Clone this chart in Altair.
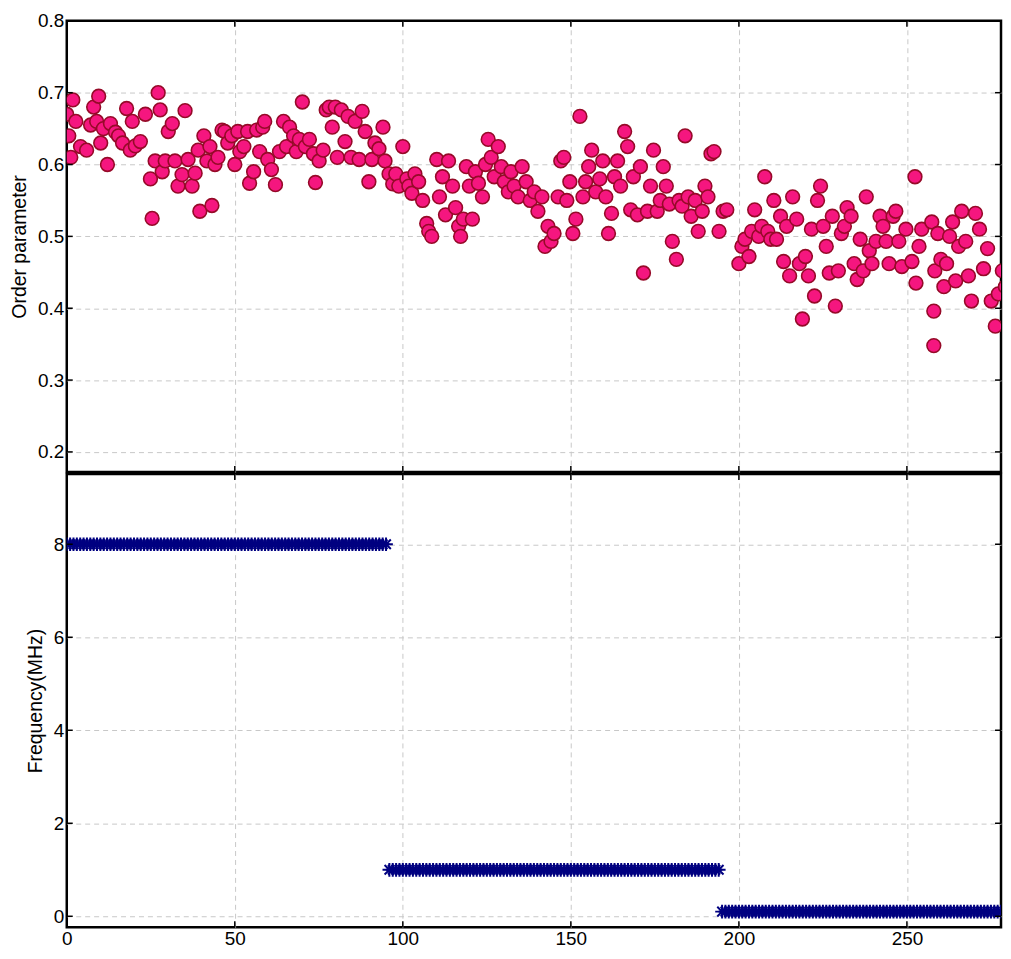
import altair as alt
import pandas as pd

# ---- data ----
order_x = [0, 0.6, 1.8, 1.2, 2.7, 4.1, 5.9, 7.1, 8.0, 8.9, 9.5, 10.1,
           10.9, 12.1, 13.0, 14.5, 15.4, 16.6, 17.8, 18.9, 19.5,
           20.4, 21.9, 23.4, 24.9, 25.4, 26.3, 27.2, 27.8, 28.4, 29.3,
           30.2, 31.4, 32.2, 33.1, 34.3, 35.2, 36.1, 37.3, 38.2, 39.1,
           39.6, 40.8, 41.7, 42.6, 43.2, 44.1, 45.0, 46.2, 47.0, 47.9, 49.1,
           50.0, 50.9, 51.5, 52.7, 53.8, 54.4, 55.6, 56.5, 57.4, 58.3, 58.9,
           59.8, 60.9, 62.1, 63.3, 64.5, 65.4, 66.3, 67.5, 68.3, 69.2,
           70.1, 71.0, 72.2, 73.4, 74.0, 75.1, 76.3, 77.2, 78.1, 79.0,
           79.9, 80.5, 81.7, 82.8, 83.7, 84.6, 85.8, 87.0, 87.9, 88.8,
           89.9, 90.8, 91.7, 92.9, 94.1, 94.7, 95.9, 97.0, 97.9, 98.8,
           100.0, 101.2, 101.8, 102.7, 103.6, 104.7, 105.9, 107.1, 107.7, 108.6,
           110.1, 110.9, 111.8, 112.7, 113.6, 114.8, 115.7, 116.6, 117.2, 118.0,
           118.9, 119.8, 120.7, 121.6, 122.5, 123.7, 124.6, 125.4, 126.3, 127.2,
           128.4, 129.3, 130.2, 131.4, 132.2, 133.1, 134.3, 135.5, 136.7, 137.9,
           139.1, 140.2, 141.4, 142.3, 143.2, 144.1, 145.0, 146.2, 147.0, 147.9,
           148.8, 149.7, 150.6, 151.5, 152.7, 153.6, 154.4, 155.3, 156.2, 157.4,
           158.6, 159.5, 160.4, 161.2, 162.1, 163.0, 163.9, 164.8, 166.0, 166.9,
           167.8, 168.6, 169.8, 170.7, 171.6, 172.8, 173.7, 174.6, 175.7, 176.6,
           177.5, 178.4, 179.3, 180.2, 181.4, 182.2, 183.1, 184.0, 184.9, 185.8,
           187.0, 187.9, 189.1, 189.9, 190.8, 191.7, 192.6, 194.1, 195.3, 196.4,
           200.0, 200.9, 201.8, 203.0, 203.8, 204.7, 205.9, 206.8, 207.7, 208.6,
           209.5, 210.4, 211.2, 212.4, 213.3, 214.2, 215.1, 216.0, 217.2, 218.0,
           218.9, 219.8, 220.7, 221.6, 222.5, 223.4, 224.3, 225.1, 226.0, 226.9,
           227.8, 228.7, 229.6, 230.5, 231.4, 232.2, 233.4, 234.3, 235.2, 236.1,
           237.0, 237.9, 238.8, 239.6, 240.8, 242.0, 242.9, 243.8, 244.7, 245.9,
           246.7, 247.6, 248.5, 249.7, 252.4, 251.5, 252.7, 253.6, 254.4, 258.0,
           258.0, 257.4, 258.3, 259.2, 260.1, 261.0, 261.8, 262.7, 263.6, 264.5,
           265.4, 266.3, 267.5, 268.3, 269.2, 270.4, 271.6, 272.8, 274.0, 275.1,
           276.3, 277.2, 278.4, 279.3]

order_y = [0.67, 0.64, 0.69, 0.61, 0.66, 0.625, 0.62, 0.655, 0.68, 0.66, 0.695, 0.63,
           0.65, 0.60, 0.657, 0.645, 0.64, 0.63, 0.678, 0.62, 0.66,
           0.626, 0.632, 0.67, 0.58, 0.525, 0.605, 0.70, 0.676, 0.59, 0.605,
           0.646, 0.657, 0.605, 0.57, 0.586, 0.675, 0.607, 0.57, 0.588, 0.62,
           0.535, 0.64, 0.605, 0.625, 0.543, 0.60, 0.61, 0.648, 0.646, 0.63, 0.64,
           0.60, 0.646, 0.618, 0.625, 0.646, 0.574, 0.59, 0.648, 0.618, 0.652, 0.66,
           0.607, 0.593, 0.572, 0.618, 0.66, 0.625, 0.652, 0.64, 0.618, 0.635,
           0.687, 0.625, 0.635, 0.615, 0.575, 0.605, 0.62, 0.676, 0.68, 0.652,
           0.68, 0.61, 0.676, 0.632, 0.667, 0.61, 0.66, 0.607, 0.674, 0.646,
           0.576, 0.607, 0.63, 0.622, 0.652, 0.605, 0.587, 0.573, 0.587, 0.57,
           0.625, 0.58, 0.57, 0.56, 0.587, 0.576, 0.55, 0.518, 0.507, 0.50,
           0.607, 0.555, 0.583, 0.53, 0.605, 0.57, 0.54, 0.514, 0.50, 0.524,
           0.597, 0.57, 0.524, 0.59, 0.574, 0.555, 0.60, 0.635, 0.61, 0.583,
           0.625, 0.597, 0.576, 0.562, 0.59, 0.57, 0.555, 0.597, 0.576, 0.55,
           0.562, 0.535, 0.555, 0.486, 0.514, 0.493, 0.504, 0.555, 0.605, 0.61,
           0.55, 0.576, 0.504, 0.524, 0.667, 0.555, 0.576, 0.597, 0.62, 0.562,
           0.58, 0.605, 0.555, 0.504, 0.532, 0.583, 0.605, 0.57, 0.646, 0.625,
           0.537, 0.583, 0.53, 0.597, 0.449, 0.535, 0.57, 0.62, 0.535, 0.55,
           0.597, 0.57, 0.545, 0.493, 0.468, 0.55, 0.542, 0.64, 0.555, 0.528,
           0.55, 0.507, 0.535, 0.57, 0.555, 0.615, 0.618, 0.507, 0.535, 0.537,
           0.462, 0.486, 0.496, 0.472, 0.507, 0.537, 0.50, 0.514, 0.583, 0.507,
           0.496, 0.55, 0.496, 0.528, 0.465, 0.514, 0.445, 0.555, 0.524, 0.462,
           0.385, 0.472, 0.445, 0.51, 0.417, 0.55, 0.57, 0.514, 0.486, 0.449,
           0.528, 0.403, 0.452, 0.504, 0.514, 0.54, 0.528, 0.462, 0.44, 0.496,
           0.452, 0.555, 0.48, 0.462, 0.493, 0.528, 0.514, 0.493, 0.462, 0.528,
           0.535, 0.493, 0.458, 0.51, 0.583, 0.465, 0.435, 0.486, 0.51, 0.348,
           0.396, 0.52, 0.452, 0.504, 0.468, 0.43, 0.462, 0.50, 0.52, 0.438,
           0.486, 0.535, 0.493, 0.445, 0.41, 0.532, 0.51, 0.455, 0.483, 0.41,
           0.375, 0.42, 0.452, 0.43]

# frequency schedule (MHz): level held over sample ranges
freq_levels = [8, 1, 0.1]
freq_start = [0, 96, 195]
freq_end = [95, 194, 280]

x_ticks = [0, 50, 100, 150, 200, 250]
order_ticks = [0.2, 0.3, 0.4, 0.5, 0.6, 0.7, 0.8]
freq_ticks = [0, 2, 4, 6, 8]

# ---- build tables ----
top_df = pd.DataFrame({"t": order_x, "v": order_y})
rows = []
for lvl, s, e in zip(freq_levels, freq_start, freq_end):
    for t in range(s, e + 1):
        rows.append({"t": t, "v": lvl})
freq_df = pd.DataFrame(rows)

W = 938
H1 = 453
H2 = 455
FONT = "Liberation Sans"
FILL = "#F5167F"
EDGE = "#960A28"
NAVY = "#000080"
ASTER = "M-1,0L1,0M0,-1L0,1M-0.7,-0.7L0.7,0.7M-0.7,0.7L0.7,-0.7"
TL = 6  # inward tick length

xscale = alt.Scale(domain=[0, 278], nice=False, zero=False)
yscale_top = alt.Scale(domain=[0.172, 0.8], nice=False, zero=False)
yscale_bot = alt.Scale(domain=[-0.235, 9.51], nice=False, zero=False)

# hide grid lines that would sit on the frame
hide_x0 = {"condition": {"test": "datum.value == 0", "value": 0}, "value": 1}
hide_top = {"condition": {"test": "datum.value >= 0.79", "value": 0}, "value": 1}

x_axis_top = alt.Axis(values=x_ticks, labels=False, title=None,
                      labelPadding=0, minExtent=0, maxExtent=0, offset=0,
                      gridOpacity=hide_x0)
x_axis_bot = alt.Axis(values=x_ticks, format="d", title=None, labelFlush=False,
                      labelPadding=2, gridOpacity=hide_x0)
y_axis_top = alt.Axis(values=order_ticks, format=".1f", title="Order parameter",
                      gridOpacity=hide_top)
y_axis_bot = alt.Axis(values=freq_ticks, format="d", title="Frequency(MHz)")


def ticks_layers(yvals, yscale, yaxis, xaxis, h):
    ydf = pd.DataFrame({"v": yvals})
    xdf = pd.DataFrame({"t": x_ticks})
    base_y = dict(y=alt.Y("v:Q", scale=yscale, axis=yaxis))
    base_x = dict(x=alt.X("t:Q", scale=xscale, axis=xaxis))
    yl = alt.Chart(ydf).mark_rule(color="black", strokeWidth=1.5).encode(
        **base_y, x=alt.value(0), x2=alt.value(TL))
    yr = alt.Chart(ydf).mark_rule(color="black", strokeWidth=1.5).encode(
        **base_y, x=alt.value(W - TL), x2=alt.value(W))
    xb = alt.Chart(xdf).mark_rule(color="black", strokeWidth=1.5).encode(
        **base_x, y=alt.value(h - TL), y2=alt.value(h))
    xt = alt.Chart(xdf).mark_rule(color="black", strokeWidth=1.5).encode(
        **base_x, y=alt.value(0), y2=alt.value(TL))
    return [yl, yr, xb, xt]


points = alt.Chart(top_df).mark_circle(
    size=190, color=FILL, stroke=EDGE, strokeWidth=1.6, opacity=1, clip=True
).encode(
    x=alt.X("t:Q", scale=xscale, axis=x_axis_top),
    y=alt.Y("v:Q", scale=yscale_top, axis=y_axis_top),
)
top = alt.layer(
    points, *ticks_layers(order_ticks, yscale_top, y_axis_top, x_axis_top, H1)
).properties(width=W, height=H1)

freq = alt.Chart(freq_df).mark_point(
    shape=ASTER, size=190, filled=False, stroke=NAVY, strokeWidth=2,
    opacity=1, clip=True
).encode(
    x=alt.X("t:Q", scale=xscale, axis=x_axis_bot),
    y=alt.Y("v:Q", scale=yscale_bot, axis=y_axis_bot),
)
bottom = alt.layer(
    freq, *ticks_layers(freq_ticks, yscale_bot, y_axis_bot, x_axis_bot, H2)
).properties(width=W, height=H2)

chart = alt.vconcat(top, bottom, spacing=-3).properties(
    padding={"left": 0, "top": 0, "right": 0, "bottom": 0},
    background="white",
).configure_view(
    stroke="black", strokeWidth=2.5
).configure_axis(
    domain=False,
    ticks=False,
    grid=True,
    gridColor="#c8c8c8",
    gridDash=[5, 4],
    gridWidth=1,
    labelFont=FONT,
    labelFontSize=19,
    labelColor="black",
    labelPadding=3,
    labelOverlap=False,
    titleFont=FONT,
    titleFontSize=19.5,
    titleFontWeight="normal",
    titleColor="black",
    titlePadding=8,
)

chart.save("out.html", embed_options={"renderer": "svg", "actions": False})
